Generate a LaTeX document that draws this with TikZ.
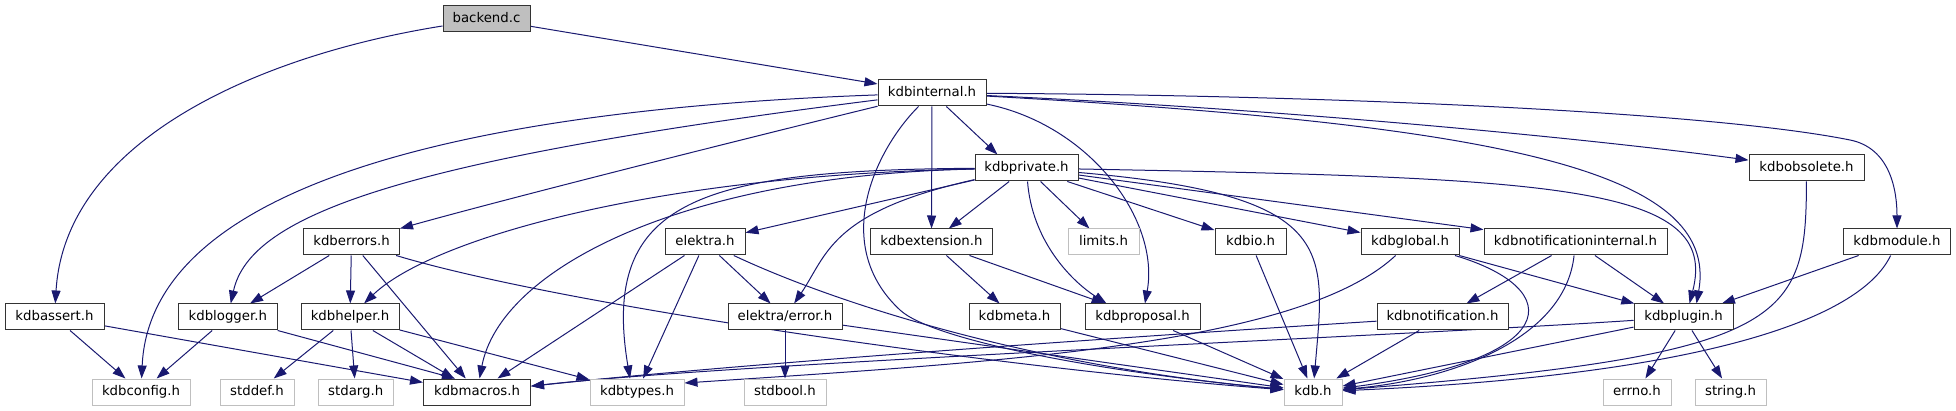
\documentclass[tikz,border=0pt]{standalone}
\usepackage{fontspec}
\setmainfont{DejaVu Sans}
\usetikzlibrary{arrows.meta}
\definecolor{edgeblue}{HTML}{191970}
\definecolor{docborder}{HTML}{333333}
\definecolor{sysborder}{HTML}{BFBFBF}
\definecolor{rootfill}{HTML}{BFBFBF}
\pgfdeclarelayer{bg}
\pgfsetlayers{bg,main}
\begin{document}
\begin{tikzpicture}[x=1pt,y=-1pt,
  file/.style={draw=docborder, line width=1pt, fill=white, minimum height=26pt,
    inner sep=0pt, text height=9.7pt, text depth=2.5pt,
    font=\fontsize{13.3}{15}\selectfont},
  sysfile/.style={file, draw=sysborder},
  rootfile/.style={file, fill=rootfill, draw=docborder},
  dep/.style={draw=edgeblue, line width=1pt, -{Triangle[length=13pt,width=9pt]}}
]
\useasboundingbox (0,0) rectangle (1956,411);

% row 0
\node[rootfile, minimum width=87pt] (backend) at (486.5,19) {backend.c};
% row 1
\node[file, minimum width=108pt] (internal) at (932,93) {kdbinternal.h};
% row 2
\node[file, minimum width=103pt] (private) at (1026.5,168) {kdbprivate.h};
\node[file, minimum width=115pt] (obsolete) at (1806.5,168) {kdbobsolete.h};
% row 3
\node[file, minimum width=96pt] (errors) at (351.5,242) {kdberrors.h};
\node[file, minimum width=80pt] (elektra) at (705,242) {elektra.h};
\node[file, minimum width=122pt] (extension) at (931.5,242) {kdbextension.h};
\node[sysfile, minimum width=71pt] (limits) at (1103.5,242) {limits.h};
\node[file, minimum width=71pt] (io) at (1250.5,242) {kdbio.h};
\node[file, minimum width=98pt] (global) at (1410,242) {kdbglobal.h};
\node[file, minimum width=183pt] (notifint) at (1575.5,242) {kdbnotificationinternal.h};
\node[file, minimum width=107pt] (module) at (1897,242) {kdbmodule.h};
% row 4
\node[file, minimum width=99pt] (assert) at (54.5,317) {kdbassert.h};
\node[file, minimum width=99pt] (logger) at (227.8,317) {kdblogger.h};
\node[file, minimum width=98pt] (helper) at (350,317) {kdbhelper.h};
\node[file, minimum width=114pt] (error) at (785,317) {elektra/error.h};
\node[file, minimum width=91pt] (meta) at (1014.5,317) {kdbmeta.h};
\node[file, minimum width=115pt] (proposal) at (1142.5,317) {kdbproposal.h};
\node[file, minimum width=131pt] (notif) at (1442.5,317) {kdbnotification.h};
\node[file, minimum width=99pt] (plugin) at (1683.5,317) {kdbplugin.h};
% row 5
\node[sysfile, minimum width=98pt] (config) at (141,392) {kdbconfig.h};
\node[sysfile, minimum width=74pt] (stddef) at (257,392) {stddef.h};
\node[sysfile, minimum width=75pt] (stdarg) at (355.7,392) {stdarg.h};
\node[file, minimum width=107pt] (macros) at (477,392) {kdbmacros.h};
\node[sysfile, minimum width=94pt] (types) at (637,392) {kdbtypes.h};
\node[sysfile, minimum width=82pt] (stdbool) at (785,392) {stdbool.h};
\node[sysfile, minimum width=58pt] (kdb) at (1313,392) {kdb.h};
\node[sysfile, minimum width=68pt] (errno) at (1637,392) {errno.h};
\node[sysfile, minimum width=71pt] (string) at (1730.5,392) {string.h};

\begin{pgfonlayer}{bg}
% backend.c
\draw[dep] (backend) -- (internal);
\draw[dep] (backend) .. controls (260,55) and (65,140) .. (assert);
% kdbinternal.h
\draw[dep] (internal) .. controls (450,110) and (150,190) .. (config);
\draw[dep] (internal) .. controls (400,160) and (250,215) .. (logger);
\draw[dep] (internal) .. controls (780,130) and (520,195) .. (errors);
\draw[dep] (internal) .. controls (875,150) and (830,245) .. (900,310)
                      .. controls (932,340) and (1100,372) .. (kdb);
\draw[dep] (internal) -- (extension);
\draw[dep] (internal) -- ([xshift=-29pt]private.north);
\draw[dep] (internal) .. controls (1090,125) and (1160,220) .. (proposal);
\draw[dep] (internal) .. controls (1500,125) and (1720,170) .. ([xshift=13pt]plugin.north);
\draw[dep] (internal) .. controls (1300,110) and (1600,140) .. (obsolete);
\draw[dep] (internal) .. controls (1300,95) and (1700,110) .. (1850,140)
                      .. controls (1890,148) and (1897,190) .. (module);
% kdbprivate.h
\draw[dep] (private) .. controls (650,175) and (430,240) .. (helper);
\draw[dep] (private) .. controls (680,175) and (500,270) .. (macros);
\draw[dep] (private) .. controls (700,170) and (600,200) .. ([xshift=-7pt]types.north);
\draw[dep] (private) -- (elektra);
\draw[dep] (private) -- (extension);
\draw[dep] (private) .. controls (830,212) and (827,255) .. (error);
\draw[dep] (private) .. controls (1032,240) and (1070,280) .. ([xshift=-36pt]proposal.north);
\draw[dep] (private) -- (limits);
\draw[dep] (private) -- (io);
\draw[dep] (private) -- (global);
\draw[dep] (private) -- (notifint);
\draw[dep] (private) .. controls (1560,178) and (1720,185) .. ([xshift=6pt]plugin.north);
\draw[dep] (private) .. controls (1340,195) and (1325,250) .. (kdb);
% kdberrors.h
\draw[dep] (errors) -- (logger);
\draw[dep] (errors) -- (helper);
\draw[dep] (errors) -- (macros);
\draw[dep] (errors) .. controls (560,305) and (1000,368) .. (kdb);
% kdbassert.h
\draw[dep] (assert) -- (config);
\draw[dep] (assert) -- (macros);
% kdblogger.h
\draw[dep] (logger) -- (config);
\draw[dep] (logger) -- ([xshift=-22pt]macros.north);
% kdbhelper.h
\draw[dep] (helper) -- (stddef);
\draw[dep] (helper) -- (stdarg);
\draw[dep] (helper) -- (macros);
\draw[dep] (helper) -- (types);
% elektra.h
\draw[dep] (elektra) -- (macros);
\draw[dep] (elektra) -- (types);
\draw[dep] (elektra) -- (error);
\draw[dep] (elektra) .. controls (850,310) and (1050,368) .. (kdb);
% elektra/error.h
\draw[dep] (error) -- (stdbool);
\draw[dep] (error) -- (kdb);
% kdbextension.h
\draw[dep] (extension) -- (meta);
\draw[dep] (extension) -- (proposal);
% single ones
\draw[dep] (meta) -- (kdb);
\draw[dep] (proposal) -- (kdb);
\draw[dep] (io) -- (kdb);
% kdbglobal.h
\draw[dep] (global) .. controls (1300,345) and (1000,362) .. ([yshift=9pt]types.east);
\draw[dep] (global) .. controls (1570,290) and (1560,360) .. (kdb);
\draw[dep] (global) -- (plugin);
% kdbnotificationinternal.h
\draw[dep] (notifint) -- (notif);
\draw[dep] (notifint) -- (plugin);
\draw[dep] (notifint) .. controls (1565,340) and (1450,380) .. (kdb);
% kdbnotification.h
\draw[dep] (notif) .. controls (1000,345) and (700,368) .. (macros);
\draw[dep] (notif) -- (kdb);
% kdbplugin.h
\draw[dep] (plugin) .. controls (1400,336) and (750,362) .. (macros);
\draw[dep] (plugin) -- (kdb);
\draw[dep] (plugin) -- (errno);
\draw[dep] (plugin) -- (string);
% kdbobsolete.h
\draw[dep] (obsolete) .. controls (1806,320) and (1790,355) .. (kdb);
% kdbmodule.h
\draw[dep] (module) -- (plugin);
\draw[dep] (module) .. controls (1860,320) and (1700,375) .. (kdb);
\end{pgfonlayer}
\end{tikzpicture}
\end{document}
